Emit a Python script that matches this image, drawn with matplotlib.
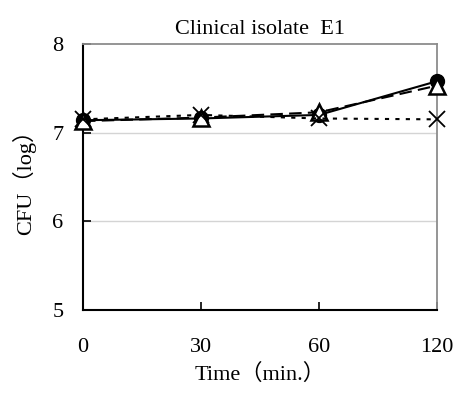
import numpy as np
import matplotlib.pyplot as plt

# data
times = ['0', '30', '60', '120']
circle_vals = [7.14, 7.16, 7.20, 7.58]
triangle_vals = [7.13, 7.17, 7.23, 7.53]
cross_vals = [7.15, 7.20, 7.16, 7.15]

plt.rcParams['font.family'] = ['Liberation Serif', 'Noto Sans CJK JP']

fig = plt.figure(figsize=(4.65, 3.96), dpi=100)
ax = fig.add_axes([0.1785, 0.217, 0.7613, 0.672])

x = np.arange(len(times))

for yv in [6, 7]:
    ax.axhline(yv, color='#d4d4d4', lw=1.0, zorder=0)

ax.plot(x, circle_vals, color='black', lw=1.5, ls='-', marker='o',
        markersize=10, markerfacecolor='black', zorder=3, clip_on=False)
ax.plot(x, triangle_vals, color='black', lw=1.5, ls=(0, (6, 3)), marker='^',
        markersize=11, markerfacecolor='white', markeredgewidth=1.8, zorder=4,
        clip_on=False)
ax.plot(x, cross_vals, color='black', lw=1.5, ls=(0, (2, 3)), marker='x',
        markersize=12, markeredgewidth=1.3, zorder=5, clip_on=False)

ax.set_xlim(0, 3)
ax.set_ylim(5, 8)
ax.set_xticks(x)
ax.set_xticklabels(times)
ax.set_yticks([5, 6, 7, 8])

ax.tick_params(axis='both', direction='in', length=6, width=1.2, labelsize=16)
ax.tick_params(axis='x', pad=20)
ax.tick_params(axis='y', pad=14)

for s in ['left', 'bottom']:
    ax.spines[s].set_color('black')
    ax.spines[s].set_linewidth(1.5)
for s in ['top', 'right']:
    ax.spines[s].set_color('#8c8c8c')
    ax.spines[s].set_linewidth(1.3)

ax.set_title('Clinical isolate  E1', fontsize=16, pad=7)
ax.set_ylabel('CFU（log）', fontsize=16, labelpad=12)
ax.set_xlabel('Time（min.）', fontsize=16, labelpad=5)

fig.savefig('out.png', dpi=100)
